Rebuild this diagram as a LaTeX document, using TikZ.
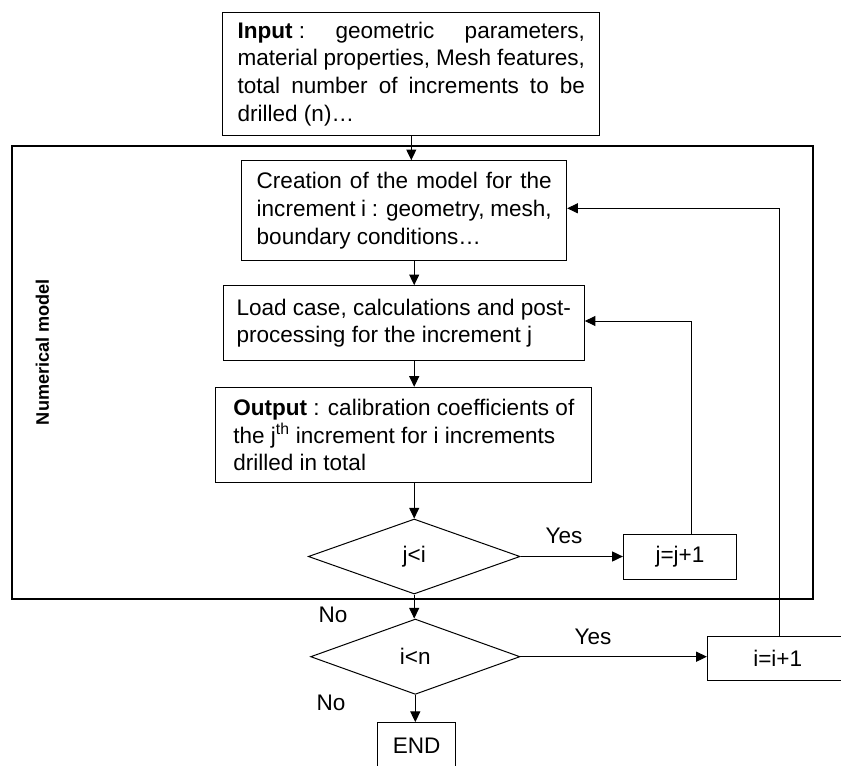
\documentclass[tikz,border=0pt]{standalone}
\usepackage{fontspec}
\setmainfont{Liberation Sans}
\usetikzlibrary{arrows.meta,shapes.geometric}
\tikzset{
  box/.style={draw, line width=0.75pt, inner sep=0pt, align=left},
  dec/.style={draw, line width=0.75pt, shape=diamond, inner sep=0pt},
  arr/.style={line width=0.75pt, -{Triangle[length=8pt,width=7.5pt]}},
  lbl/.style={inner sep=0pt, anchor=base},
}
\begin{document}
\begin{tikzpicture}[x=0.75pt,y=-0.75pt,font=\fontsize{16.9}{20.7}\selectfont]
\useasboundingbox (0,0) rectangle (841,766);
\clip (0,0) rectangle (841,766);
% frame of the numerical model
\node[draw, line width=1.5pt, minimum width=601.2pt, minimum height=339.75pt, inner sep=0pt] (frame) at (412.5,372.5) {};
\node[rotate=90, font=\fontsize{13.6}{16}\selectfont\bfseries] (nm) at (42.3,352) {Numerical model};
% boxes
\node[box, minimum width=283pt, minimum height=91.7pt] (input) at (411.3,73.9)
  {\makebox[260.5pt][s]{\mbox{\textbf{Input} :} geometric parameters,}\\
   \makebox[260.5pt][s]{material properties, Mesh features,}\\
   \makebox[260.5pt][s]{total number of increments to be}\\
   drilled (n)…};
\node[box, minimum width=243.75pt, minimum height=75pt] (creation) at (404.2,210.7)
  {\makebox[221.25pt][s]{Creation of the model for the}\\
   \makebox[221.25pt][s]{increment i : geometry, mesh,}\\
   boundary conditions…};
\node[box, minimum width=270.75pt, minimum height=56.25pt] (load) at (403.8,323.2)
  {Load case, calculations and post-\\processing for the increment j};
\node[box, minimum width=281.8pt, minimum height=71.5pt] (output) at (403.8,435)
  {\textbf{Output} : calibration coefficients of\\
   the j\textsuperscript{th} increment for i increments\\
   drilled in total};
\node[dec, minimum width=158.8pt, minimum height=56.25pt] (jlt) at (414.2,556.5) {j<i};
\node[box, align=center, minimum width=85pt, minimum height=33.75pt] (jj) at (680,556.8) {j=j+1};
\node[dec, minimum width=157pt, minimum height=56.5pt] (ilt) at (415.3,656.7) {i<n};
\node[box, align=center, minimum width=105.5pt, minimum height=33.2pt] (ii) at (777.7,658.8) {i=i+1};
\node[box, align=center, minimum width=58.5pt, minimum height=34pt] (endb) at (416.7,745.3) {END};
% labels
\node[lbl] (yes1) at (564,543.3) {Yes};
\node[lbl] (yes2) at (593,644) {Yes};
\node[lbl] (no1) at (333,622.7) {No};
\node[lbl] (no2) at (331,710) {No};
% connectors
\draw[arr] (input.south) -- (input.south |- creation.north);
\draw[arr] (jlt.north |- creation.south) -- (jlt.north |- load.north);
\draw[arr] (jlt.north |- load.south) -- (jlt.north |- output.north);
\draw[arr] (jlt.north |- output.south) -- (jlt.north);
\draw[arr] (jlt.south) -- (jlt.south |- ilt.north);
\draw[arr] (ilt.south) -- (ilt.south |- endb.north);
\draw[arr] (jlt.east) -- (jlt.east -| jj.west);
\draw[arr] (ilt.east) -- (ilt.east -| ii.west);
\coordinate (jup) at (691.7,321);
\coordinate (iup) at (779.3,208.3);
\draw[arr] (jj.north -| jup) -- (jup) -- (load.east |- jup);
\draw[arr] (ii.north -| iup) -- (iup) -- (creation.east |- iup);
\end{tikzpicture}
\end{document}
